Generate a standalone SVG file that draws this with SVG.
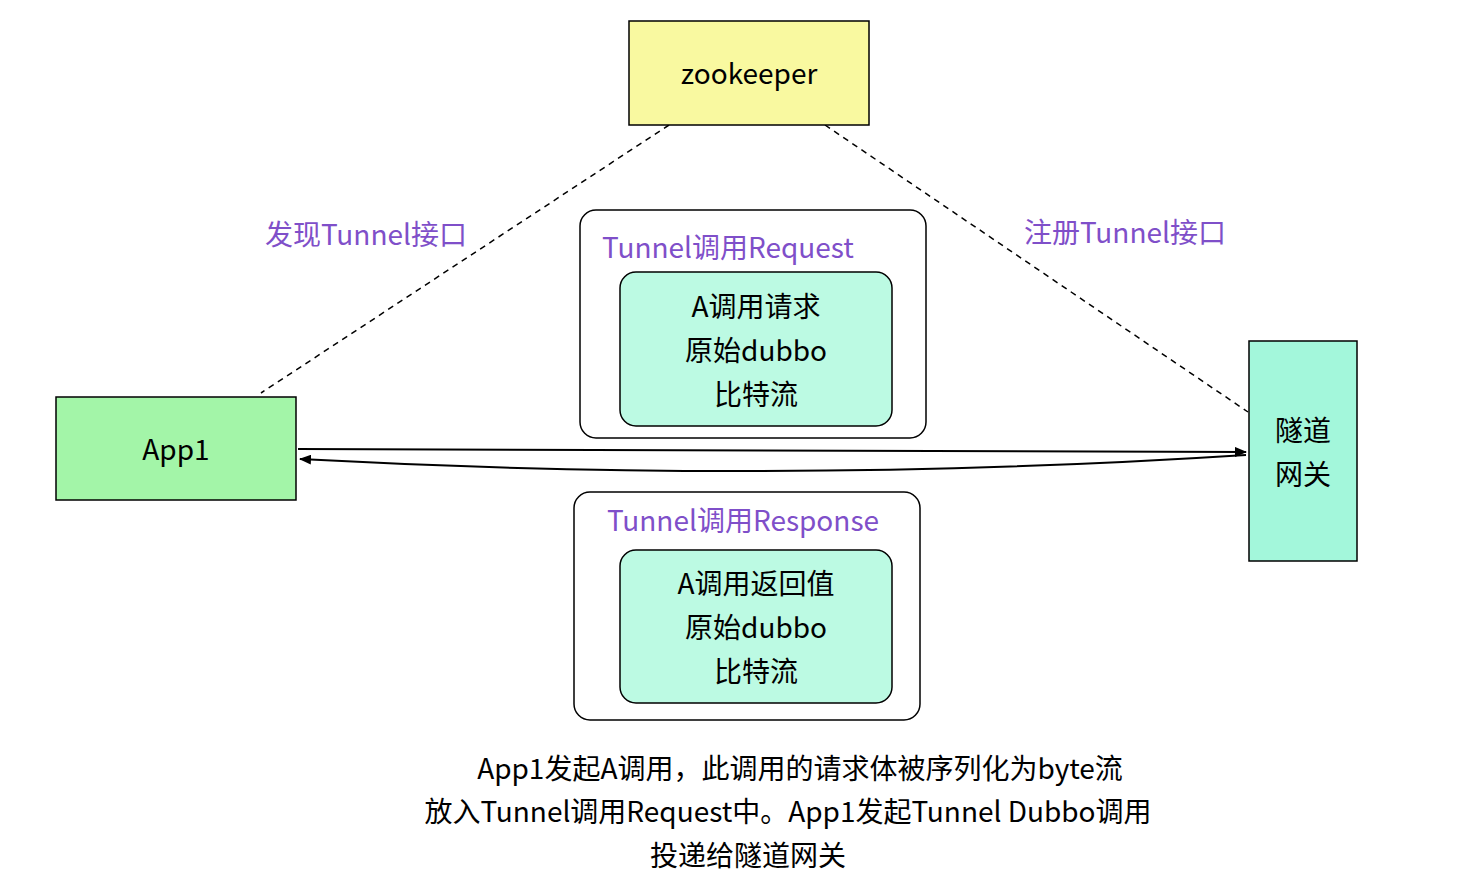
<svg xmlns="http://www.w3.org/2000/svg" width="1466" height="896" viewBox="0 0 1466 896">
<style>
text{font-family:"Noto Sans CJK SC","Noto Sans",sans-serif;text-anchor:middle}
.t{font-size:28px;fill:#000}
.p{font-size:28px;fill:#7f4fc9}
.c{font-size:29px;fill:#000}
.box{stroke:#000;stroke-width:1.5}
.ln{fill:none;stroke:#000;stroke-width:2}
.d{fill:none;stroke:#000;stroke-width:1.5;stroke-dasharray:6 5}
</style>
<defs><marker id="a" markerWidth="12" markerHeight="10" refX="11" refY="5" orient="auto" markerUnits="userSpaceOnUse"><path d="M0,0 L12,5 L0,10 Z" fill="#000"/></marker></defs>
<rect width="1466" height="896" fill="#fff"/>
<g id="connectors">
<path class="d" d="M669,125 L261,393"/>
<path class="d" d="M825,125 L1248,412"/>
<path class="ln" d="M298,449 L1246,452" marker-end="url(#a)"/>
<path class="ln" d="M1246,455 Q780,485 300,459" marker-end="url(#a)"/>
</g>
<g id="zookeeper"><rect class="box" x="629" y="21" width="240" height="104" fill="#f9f9a0"/><text class="t" x="749" y="84">zookeeper</text></g>
<g id="app1"><rect class="box" x="56" y="397" width="240" height="103" fill="#a3f5a8"/><text class="t" x="176" y="460">App1</text></g>
<g id="gateway"><rect class="box" x="1249" y="341" width="108" height="220" fill="#a3f7db"/><text class="t" x="1303" y="441">隧道</text><text class="t" x="1303" y="485">网关</text></g>
<g id="req"><rect x="580" y="210" width="346" height="228" rx="16" fill="#fff" stroke="#000" stroke-width="1.5"/><text class="p" x="728" y="258">Tunnel调用Request</text>
<rect x="620" y="272" width="272" height="154" rx="16" fill="#bcfae3" stroke="#000" stroke-width="1.5"/>
<text class="t" x="756" y="317">A调用请求</text><text class="t" x="756" y="361">原始dubbo</text><text class="t" x="756" y="405">比特流</text></g>
<g id="resp"><rect x="574" y="492" width="346" height="228" rx="16" fill="#fff" stroke="#000" stroke-width="1.5"/><text class="p" x="743" y="531">Tunnel调用Response</text>
<rect x="620" y="550" width="272" height="153" rx="16" fill="#bcfae3" stroke="#000" stroke-width="1.5"/>
<text class="t" x="756" y="594">A调用返回值</text><text class="t" x="756" y="638">原始dubbo</text><text class="t" x="756" y="682">比特流</text></g>
<text class="p" x="366" y="245">发现Tunnel接口</text>
<text class="p" x="1125" y="243">注册Tunnel接口</text>
<text class="t" x="800" y="779">App1发起A调用，此调用的请求体被序列化为byte流</text>
<text class="t" x="788" y="822">放入Tunnel调用Request中。App1发起Tunnel Dubbo调用</text>
<text class="t" x="748" y="866">投递给隧道网关</text>
</svg>
